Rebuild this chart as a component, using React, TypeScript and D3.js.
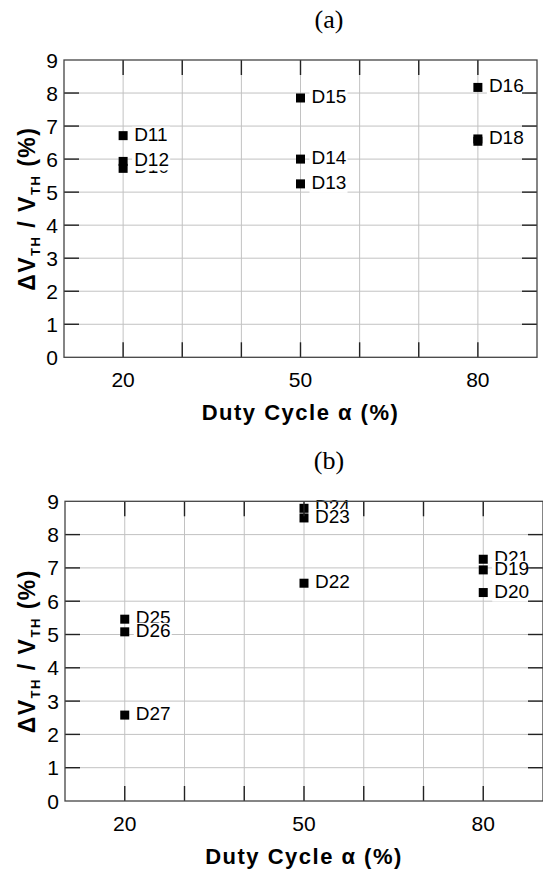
import * as d3 from "d3";

// panel (a): duty cycle, dVth/Vth per device (drawing order matters for overlaps)
const devicesA = ["D10", "D11", "D12", "D13", "D14", "D15", "D16", "D17", "D18"];
const dutyA = [20, 20, 20, 50, 50, 50, 80, 80, 80];
const shiftA = [5.72, 6.71, 5.93, 5.25, 6.0, 7.85, 8.17, 6.54, 6.61];

// panel (b)
const devicesB = ["D21", "D19", "D20", "D24", "D23", "D22", "D25", "D26", "D27"];
const dutyB = [80, 80, 80, 50, 50, 50, 20, 20, 20];
const shiftB = [7.26, 6.94, 6.26, 8.79, 8.5, 6.54, 5.46, 5.08, 2.58];

const xGrid = [20, 30, 40, 50, 60, 70, 80];
const xTickLabels = [20, 50, 80];
const yGrid = [1, 2, 3, 4, 5, 6, 7, 8];
const yTickLabels = [0, 1, 2, 3, 4, 5, 6, 7, 8, 9];

const SANS = "'Liberation Sans', Arial, sans-serif";
const SERIF = "'Liberation Serif', 'Times New Roman', serif";
const TICK_LEN = 15;
const LABEL_W = 35;

type PanelProps = {
  title: string;
  x0: number;
  x1: number;
  y0: number; // top (9)
  y1: number; // bottom (0)
  devices: string[];
  duty: number[];
  shift: number[];
};

const Panel = ({ title, x0, x1, y0, y1, devices, duty, shift }: PanelProps) => {
  const x = d3.scaleLinear().domain([10, 90]).range([x0, x1]);
  const y = d3.scaleLinear().domain([0, 9]).range([y1, y0]);
  const cx = (x0 + x1) / 2;
  const cy = (y0 + y1) / 2;

  return (
    <g>
      <text x={329} y={y0 - 32} textAnchor="middle" fontFamily={SERIF} fontSize={26}>
        {title}
      </text>

      {/* grid */}
      {xGrid.map((v) => (
        <line key={"gx" + v} x1={x(v)} x2={x(v)} y1={y0} y2={y1} stroke="#c2c2c2" strokeWidth={1} />
      ))}
      {yGrid.map((v) => (
        <line key={"gy" + v} x1={x0} x2={x1} y1={y(v)} y2={y(v)} stroke="#c2c2c2" strokeWidth={1} />
      ))}

      {/* points and labels */}
      {devices.map((name, i) => {
        const px = x(duty[i]);
        const py = y(shift[i]);
        return (
          <g key={name}>
            <rect x={px - 4.5} y={py - 4.5} width={9} height={9} fill="#000" />
            <rect x={px + 9} y={py - 9} width={LABEL_W + 3} height={18} fill="#fff" />
            <text x={px + 11} y={py + 5} fontFamily={SANS} fontSize={19} fill="#000">
              {name}
            </text>
          </g>
        );
      })}

      {/* frame and ticks */}
      {xGrid.map((v) => (
        <g key={"tx" + v}>
          <line x1={x(v)} x2={x(v)} y1={y0} y2={y0 + TICK_LEN} stroke="#222" strokeWidth={1.4} />
          <line x1={x(v)} x2={x(v)} y1={y1} y2={y1 - TICK_LEN} stroke="#222" strokeWidth={1.4} />
        </g>
      ))}
      {yGrid.map((v) => (
        <g key={"ty" + v}>
          <line x1={x0} x2={x0 + TICK_LEN} y1={y(v)} y2={y(v)} stroke="#222" strokeWidth={1.4} />
          <line x1={x1} x2={x1 - TICK_LEN} y1={y(v)} y2={y(v)} stroke="#222" strokeWidth={1.4} />
        </g>
      ))}
      <rect x={x0} y={y0} width={x1 - x0} height={y1 - y0} fill="none" stroke="#444" strokeWidth={1.3} />

      {/* tick labels */}
      {yTickLabels.map((v) => (
        <text key={"ly" + v} x={x0 - 6} y={y(v) + 7.5} textAnchor="end" fontFamily={SANS} fontSize={21}>
          {v}
        </text>
      ))}
      {xTickLabels.map((v) => (
        <text key={"lx" + v} x={x(v)} y={y1 + 30} textAnchor="middle" fontFamily={SANS} fontSize={21}>
          {v}
        </text>
      ))}

      {/* axis titles */}
      <text
        x={cx}
        y={y1 + 63}
        textAnchor="middle"
        fontFamily={SANS}
        fontSize={22}
        fontWeight="bold"
        letterSpacing={1.5}
      >
        Duty Cycle α (%)
      </text>
      <text
        transform={`translate(35,${cy}) rotate(-90)`}
        textAnchor="middle"
        fontFamily={SANS}
        fontSize={23}
        fontWeight="bold"
        letterSpacing={1.5}
      >
        ΔV
        <tspan fontSize={13} dy={5}>TH</tspan>
        <tspan dy={-5}> / V</tspan>
        <tspan fontSize={13} dy={5}>TH</tspan>
        <tspan dy={-5}> (%)</tspan>
      </text>
    </g>
  );
};

export default function App() {
  return (
    <svg
      width={543}
      height={872}
      style={{ position: "absolute", left: 0, top: 0, background: "#fff" }}
    >
      <rect width={543} height={872} fill="#fff" />
      <Panel
        title="(a)"
        x0={64}
        x1={537}
        y0={60}
        y1={357.3}
        devices={devicesA}
        duty={dutyA}
        shift={shiftA}
      />
      <Panel
        title="(b)"
        x0={65}
        x1={543}
        y0={501.3}
        y1={801}
        devices={devicesB}
        duty={dutyB}
        shift={shiftB}
      />
    </svg>
  );
}
